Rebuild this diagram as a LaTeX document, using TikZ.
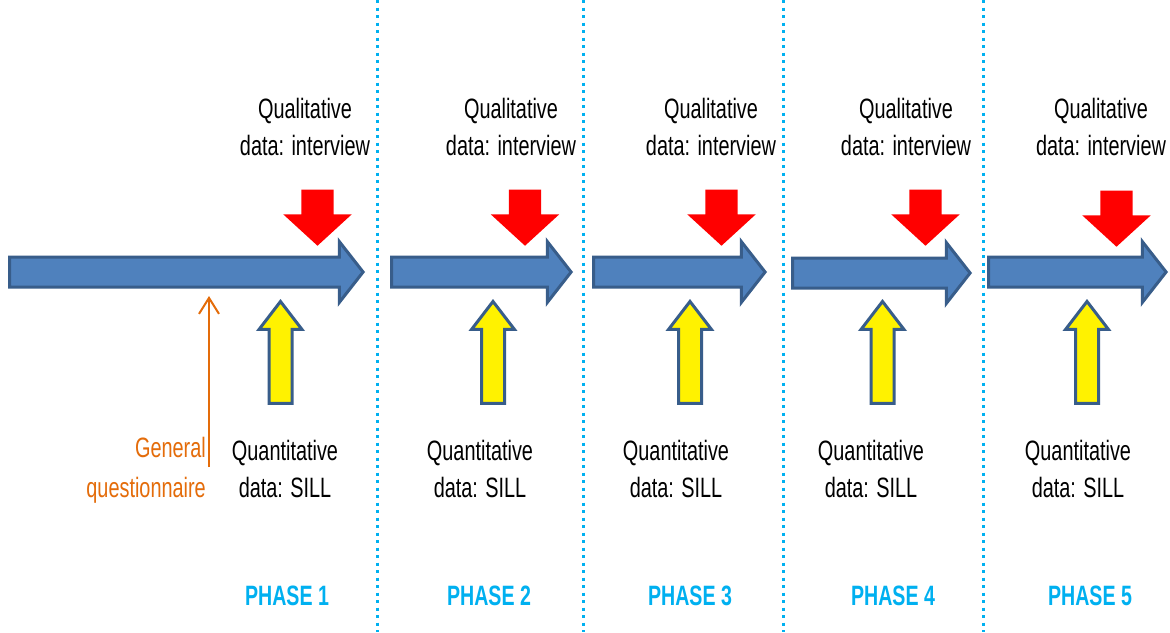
\documentclass[tikz,border=0pt]{standalone}
\usepackage{fontspec}
\setmainfont{Liberation Sans}
\newfontfamily\narrowfont[FakeStretch=0.71]{Liberation Sans}
\newfontfamily\phasefont[FakeStretch=0.70]{Liberation Sans}
\usetikzlibrary{shapes.arrows,arrows.meta}

\definecolor{flowblue}{RGB}{79,129,189}
\definecolor{flowedge}{RGB}{56,93,138}
\definecolor{phasecyan}{RGB}{0,176,240}
\definecolor{gqorange}{RGB}{228,108,10}

\tikzset{flow/.style={single arrow,draw=flowedge,fill=flowblue,line width=3pt,
                      inner sep=0pt,text height=27pt,text depth=0pt,
                      single arrow head extend=15.5pt,single arrow tip angle=104,
                      anchor=tip},
         qualarrow/.style={single arrow,fill=red,inner sep=0pt,
                      text height=32pt,text depth=0pt,minimum height=56pt,
                      single arrow head extend=18pt,single arrow tip angle=95,
                      rotate=-90,anchor=tip},
         quantarrow/.style={single arrow,draw=flowedge,fill=yellow,line width=3pt,
                      inner sep=0pt,text height=20pt,text depth=0pt,minimum height=102pt,
                      single arrow head extend=10pt,single arrow tip angle=75,
                      rotate=90,anchor=tip},
         datatext/.style={font=\narrowfont\fontsize{28}{37}\selectfont,
                      align=center,inner sep=0pt,anchor=base},
         gqtext/.style={font=\narrowfont\fontsize{28}{40}\selectfont,text=gqorange,
                      align=right,inner sep=0pt,anchor=base east},
         phasetext/.style={font=\phasefont\bfseries\fontsize{28}{34}\selectfont,
                      text=phasecyan,inner sep=0pt,anchor=base},
         divider/.style={phasecyan,line width=3pt,dash pattern=on 3pt off 4.5pt}}

\begin{document}
\begin{tikzpicture}[x=1pt,y=-1pt]

\path[fill=white] (0,0) rectangle (1170,632);
\useasboundingbox (0,0) rectangle (1170,632);

\draw[divider] (377,0) -- (377,632);
\draw[divider] (583,0) -- (583,632);
\draw[divider] (783,0) -- (783,632);
\draw[divider] (983,0) -- (983,632);

\node[flow,minimum height=353.5pt] (flow1) at (365,272) {};
\node[flow,minimum height=179.5pt] (flow2) at (573,272) {};
\node[flow,minimum height=171.5pt] (flow3) at (767,272) {};
\node[flow,minimum height=177.5pt] (flow4) at (972,273) {};
\node[flow,minimum height=177.5pt] (flow5) at (1168,272) {};

\node[qualarrow] (int1) at (317.5,246) {};
\node[qualarrow] (int2) at (525,246) {};
\node[qualarrow] (int3) at (721.5,246) {};
\node[qualarrow] (int4) at (925.5,246) {};
\node[qualarrow] (int5) at (1116.5,247) {};

\node[quantarrow] (sill1) at (280.5,299) {};
\node[quantarrow] (sill2) at (493,299) {};
\node[quantarrow] (sill3) at (690,299) {};
\node[quantarrow] (sill4) at (882.5,299) {};
\node[quantarrow] (sill5) at (1087,299) {};

\node[datatext] (qual1) at (305,155) {Qualitative\\data: interview};
\node[datatext] (qual2) at (511,155) {Qualitative\\data: interview};
\node[datatext] (qual3) at (711,155) {Qualitative\\data: interview};
\node[datatext] (qual4) at (906,155) {Qualitative\\data: interview};
\node[datatext] (qual5) at (1101,155) {Qualitative\\data: interview};

\node[datatext] (quant1) at (285,497) {Quantitative\\data: SILL};
\node[datatext] (quant2) at (480,497) {Quantitative\\data: SILL};
\node[datatext] (quant3) at (676,497) {Quantitative\\data: SILL};
\node[datatext] (quant4) at (871,497) {Quantitative\\data: SILL};
\node[datatext] (quant5) at (1078,497) {Quantitative\\data: SILL};

\node[gqtext] (gq) at (206,497) {General\\questionnaire};
\coordinate (gqfoot) at (209,467);
\coordinate (gqtip) at (209,296);
\draw[gqorange,line width=2pt,-{Straight Barb[length=16pt,width=20pt]}] (gqfoot) -- (gqtip);

\node[phasetext] (phase1) at (287,605) {PHASE 1};
\node[phasetext] (phase2) at (489,605) {PHASE 2};
\node[phasetext] (phase3) at (690,605) {PHASE 3};
\node[phasetext] (phase4) at (893,605) {PHASE 4};
\node[phasetext] (phase5) at (1090,605) {PHASE 5};
\end{tikzpicture}
\end{document}
